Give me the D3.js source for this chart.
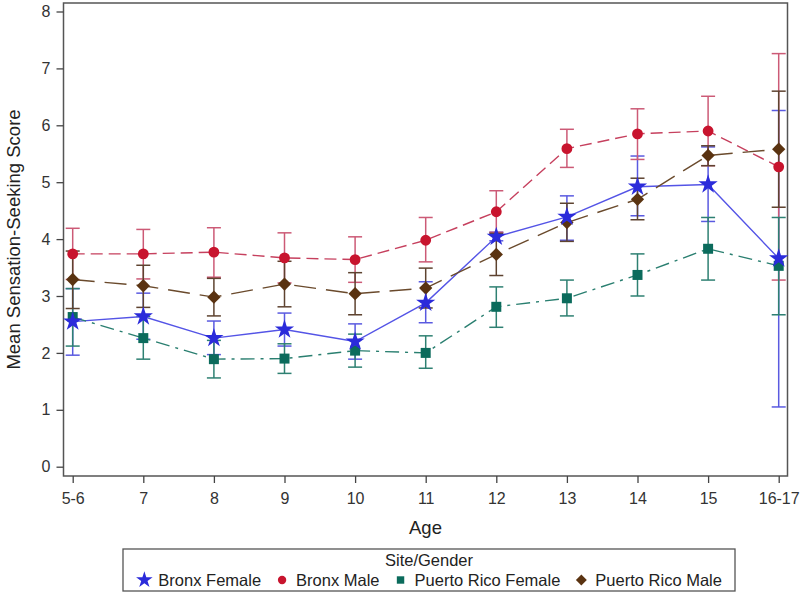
<!DOCTYPE html>
<html><head><meta charset="utf-8">
<script src="https://cdn.jsdelivr.net/npm/d3@7"></script>
<style>
body{margin:0;background:#fff;}
svg{display:block;font-family:"Liberation Sans",Arial,sans-serif;}
</style></head>
<body>
<svg id="chart" width="800" height="594"></svg>
<script>
const ages = ["5-6","7","8","9","10","11","12","13","14","15","16-17"];
const yTicks = [0,1,2,3,4,5,6,7,8];

const bronxFemaleMean = [2.55,2.64,2.26,2.41,2.20,2.88,4.04,4.39,4.92,4.96,3.66];
const bronxFemaleLow  = [1.96,2.24,1.97,2.12,1.89,2.53,3.97,3.98,4.41,4.31,1.05];
const bronxFemaleHigh = [3.13,3.05,2.56,2.70,2.51,3.25,4.12,4.76,5.46,5.62,6.26];

const bronxMaleMean = [3.74,3.74,3.77,3.67,3.64,3.98,4.48,5.59,5.85,5.90,5.27];
const bronxMaleLow  = [3.29,3.30,3.33,3.23,3.24,3.60,4.12,5.26,5.40,5.29,3.28];
const bronxMaleHigh = [4.19,4.17,4.20,4.11,4.04,4.38,4.85,5.93,6.29,6.51,7.26];

const prFemaleMean = [2.63,2.26,1.89,1.90,2.04,2.00,2.81,2.96,3.37,3.83,3.53];
const prFemaleLow  = [2.12,1.89,1.56,1.64,1.75,1.73,2.45,2.65,3.00,3.28,2.67];
const prFemaleHigh = [3.13,2.64,2.22,2.16,2.33,2.30,3.16,3.28,3.74,4.38,4.38];

const prMaleMean = [3.29,3.18,2.98,3.21,3.04,3.14,3.73,4.29,4.70,5.47,5.58];
const prMaleLow  = [2.78,2.80,2.65,2.81,2.67,2.79,3.36,3.96,4.34,5.29,4.56];
const prMaleHigh = [3.79,3.54,3.31,3.61,3.41,3.49,4.10,4.63,5.07,5.64,6.60];

const seriesNames = ["Bronx Female","Bronx Male","Puerto Rico Female","Puerto Rico Male"];

const series = [
  {name:seriesNames[0], mean:bronxFemaleMean, lo:bronxFemaleLow, hi:bronxFemaleHigh,
   marker:"star", fill:"#2B2BDA", line:"#5454E6", err:"#5A5AE0", dash:null},
  {name:seriesNames[1], mean:bronxMaleMean, lo:bronxMaleLow, hi:bronxMaleHigh,
   marker:"circle", fill:"#C8142E", line:"#C6405E", err:"#CC5A76", dash:"12,6"},
  {name:seriesNames[2], mean:prFemaleMean, lo:prFemaleLow, hi:prFemaleHigh,
   marker:"square", fill:"#0B6B5C", line:"#2A7F70", err:"#2E8072", dash:"14,6,3,6"},
  {name:seriesNames[3], mean:prMaleMean, lo:prMaleLow, hi:prMaleHigh,
   marker:"diamond", fill:"#5A3311", line:"#6A4A2C", err:"#5E4330", dash:"22,10"}
];

const svg = d3.select("#chart");
const frame = {left:63.5, right:787.5, top:3, bottom:476};

const x = d3.scalePoint().domain(ages).range([72.7, 778.7]);
const y = d3.scaleLinear().domain([0,8]).range([466.7, 11.5]);

const diamondType = {draw(ctx,size){const r=Math.sqrt(size/2);ctx.moveTo(0,-r);ctx.lineTo(r,0);ctx.lineTo(0,r);ctx.lineTo(-r,0);ctx.closePath();}};
const symType = {star:d3.symbolStar, circle:d3.symbolCircle, square:d3.symbolSquare, diamond:diamondType};
const symSize = {star:115, circle:92, square:100, diamond:88};

// frame
svg.append("rect").attr("x",frame.left).attr("y",frame.top)
  .attr("width",frame.right-frame.left).attr("height",frame.bottom-frame.top)
  .attr("fill","none").attr("stroke","#555").attr("stroke-width",1.5);

// axes
const yAxis = d3.axisLeft(y).tickValues(yTicks).tickSize(7).tickPadding(6).tickFormat(d3.format("d"));
const gy = svg.append("g").attr("transform",`translate(${frame.left},0)`).call(yAxis);
const xAxis = d3.axisBottom(x).tickSize(7).tickPadding(10);
const gx = svg.append("g").attr("transform",`translate(0,${frame.bottom})`).call(xAxis);
[gx,gy].forEach(g=>{
  g.select(".domain").remove();
  g.selectAll(".tick line").attr("stroke","#444").attr("stroke-width",1.3);
  g.selectAll(".tick text").attr("font-size",16).attr("fill","#333")
    .attr("font-family","'Liberation Sans',Arial,sans-serif");
});

// axis titles
svg.append("text").attr("x",(frame.left+frame.right)/2).attr("y",534)
  .attr("text-anchor","middle").attr("font-size",18.5).attr("fill","#222").text("Age");
svg.append("text").attr("transform",`translate(20,${(frame.top+frame.bottom)/2}) rotate(-90)`)
  .attr("text-anchor","middle").attr("font-size",18.5).attr("fill","#222").text("Mean Sensation-Seeking Score");

const plot = svg.append("g");
// error bars
series.forEach(s=>{
  const g = plot.append("g").attr("stroke",s.err).attr("stroke-width",1.5).attr("fill","none");
  ages.forEach((a,i)=>{
    const cx = x(a);
    g.append("line").attr("x1",cx).attr("x2",cx).attr("y1",y(s.lo[i])).attr("y2",y(s.hi[i]));
    g.append("line").attr("x1",cx-7).attr("x2",cx+7).attr("y1",y(s.lo[i])).attr("y2",y(s.lo[i]));
    g.append("line").attr("x1",cx-7).attr("x2",cx+7).attr("y1",y(s.hi[i])).attr("y2",y(s.hi[i]));
  });
});
// lines
const lineGen = d3.line().x((d,i)=>x(ages[i])).y(d=>y(d));
series.forEach(s=>{
  plot.append("path").datum(s.mean).attr("d",lineGen).attr("fill","none")
    .attr("stroke",s.line).attr("stroke-width",1.4)
    .attr("stroke-dasharray",s.dash);
});
// markers
[2,3,1,0].forEach(k=>{
  const s = series[k];
  plot.append("g").selectAll("path").data(s.mean).join("path")
    .attr("transform",(d,i)=>`translate(${x(ages[i])},${y(d)})`)
    .attr("d",d3.symbol().type(symType[s.marker]).size(symSize[s.marker]))
    .attr("fill",s.fill);
});

// legend
const lg = svg.append("g");
lg.append("rect").attr("x",123).attr("y",549).attr("width",612).attr("height",42)
  .attr("fill","none").attr("stroke","#555").attr("stroke-width",1.3);
lg.append("text").attr("x",429).attr("y",566).attr("text-anchor","middle")
  .attr("font-size",16.5).attr("fill","#222").text("Site/Gender");
const items = lg.append("g");
let cx = 0;
const legSize = {star:85, circle:55, square:55, diamond:60};
series.forEach((s,i)=>{
  items.append("path").attr("transform",`translate(${cx},580)`)
    .attr("d",d3.symbol().type(symType[s.marker]).size(legSize[s.marker])).attr("fill",s.fill);
  const t = items.append("text").attr("x",cx+14).attr("y",586).attr("font-size",16.5).attr("fill","#222").text(s.name);
  const w = t.node().getComputedTextLength();
  cx = cx + 14 + w + 21;
});
const bb = items.node().getBBox();
items.attr("transform",`translate(${429 - (bb.x + bb.width/2)},0)`);
</script>
</body></html>
